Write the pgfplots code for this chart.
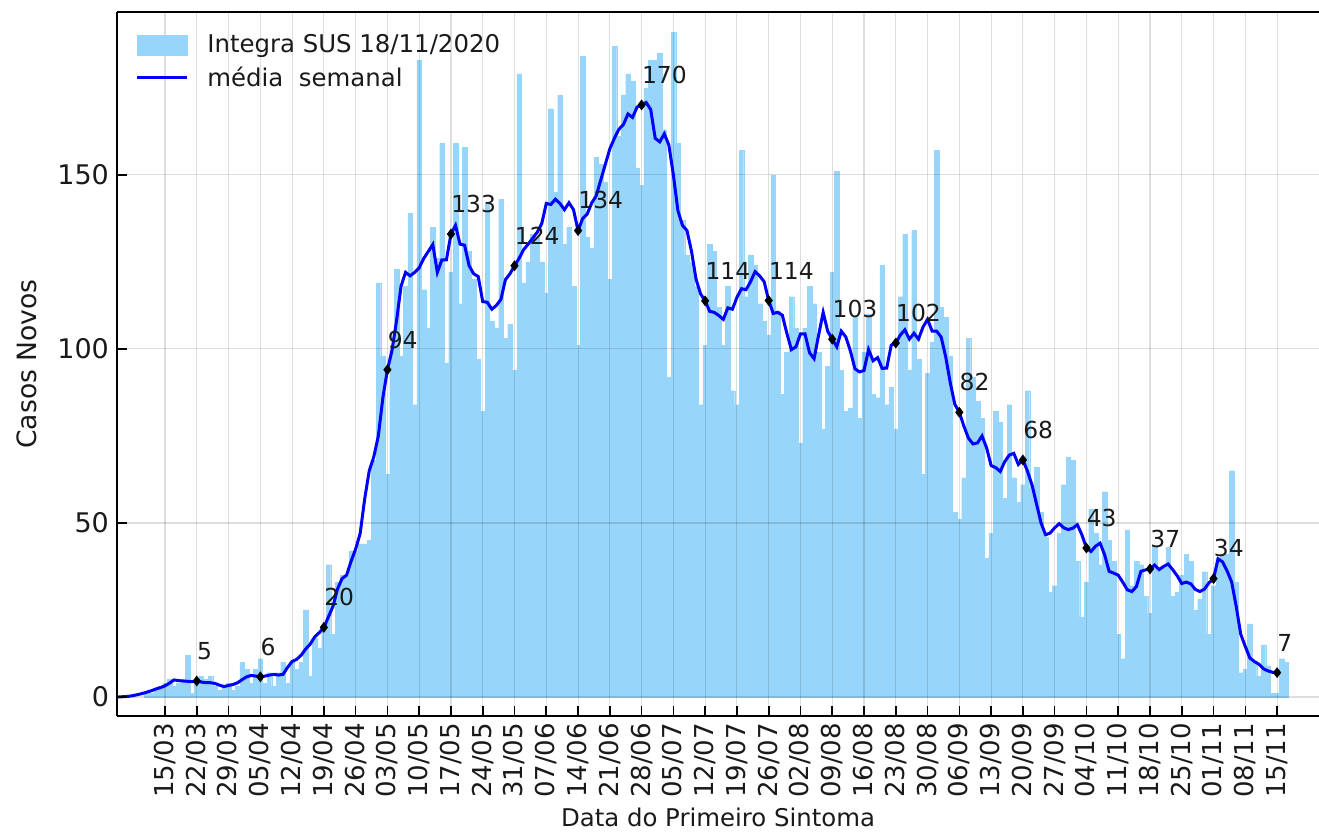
\documentclass[border=0pt]{standalone}
\usepackage{fontspec}
\setmainfont{DejaVu Sans}
\usepackage{pgfplots}
\pgfplotsset{compat=1.18}
\usepackage{pgfplotstable}
\definecolor{barblue}{RGB}{151,213,250}
\definecolor{txt}{RGB}{26,26,26}

\pgfplotstableread{
d v
-4 1
-3 1
-2 2
-1 3
0 4
1 5
2 3
3 4
4 5
5 12
6 1
7 5
8 6
9 5
10 6
11 3
12 2
13 3
14 4
15 2
16 3
17 10
18 8
19 4
20 8
21 11
22 4
23 7
24 3
25 7
26 10
27 4
28 10
29 8
30 10
31 25
32 6
33 17
34 14
35 20
36 38
37 18
38 33
39 35
40 35
41 42
42 42
43 44
44 44
45 45
46 68
47 119
48 98
49 64
50 100
51 123
52 98
53 118
54 139
55 84
56 183
57 117
58 106
59 135
60 126
61 159
62 96
63 122
64 159
65 113
66 158
67 128
68 120
69 97
70 82
71 142
72 108
73 106
74 143
75 103
76 107
77 94
78 179
79 119
80 125
81 133
82 132
83 125
84 116
85 169
86 145
87 173
88 130
89 135
90 118
91 101
92 184
93 132
94 129
95 155
96 153
97 148
98 120
99 187
100 161
101 173
102 179
103 177
104 152
105 147
106 175
107 183
108 183
109 185
110 163
111 92
112 191
113 159
114 137
115 127
116 125
117 118
118 84
119 101
120 130
121 128
122 112
123 101
124 118
125 88
126 84
127 157
128 115
129 127
130 124
131 113
132 108
133 104
134 150
135 111
136 87
137 99
138 115
139 106
140 73
141 106
142 118
143 113
144 99
145 77
146 95
147 122
148 151
149 94
150 82
151 83
152 109
153 80
154 99
155 110
156 87
157 86
158 124
159 84
160 89
161 77
162 115
163 133
164 94
165 134
166 97
167 64
168 93
169 102
170 157
171 112
172 109
173 98
174 53
175 51
176 63
177 103
178 92
179 85
180 80
181 40
182 47
183 82
184 79
185 57
186 84
187 63
188 56
189 61
190 88
191 60
192 66
193 53
194 46
195 30
196 32
197 47
198 61
199 69
200 68
201 39
202 23
203 33
204 54
205 47
206 38
207 59
208 45
209 39
210 18
211 11
212 48
213 32
214 39
215 38
216 29
217 24
218 43
219 37
220 37
221 43
222 29
223 30
224 35
225 41
226 39
227 25
228 28
229 36
230 18
231 32
232 40
233 41
234 41
235 65
236 33
237 7
238 8
239 21
240 10
241 6
242 15
243 9
244 1
245 1
246 11
247 10
}\bars

\pgfplotstableread{
d v
-10.575 0
-9 0.1
-8 0.2
-7 0.4
-6 0.7
-5 1.0
-4 1.4
-3 1.8
-2 2.3
-1 2.7
0 3.2
1 4.0
2 4.9
3 4.7
4 4.6
5 4.5
6 4.4
7 4.6
8 4.3
9 4.1
10 4.1
11 3.9
12 3.4
13 3.0
14 3.3
15 3.6
16 4.1
17 5.0
18 5.8
19 6.2
20 6.0
21 5.8
22 6.0
23 6.3
24 6.5
25 6.3
26 6.5
27 8.5
28 10.2
29 10.8
30 12.0
31 13.8
32 15.2
33 17.3
34 18.5
35 20.0
36 23.0
37 26.0
38 31.0
39 34.0
40 35.0
41 39.0
42 42.5
43 47.0
44 57.0
45 65.0
46 69.0
47 75.0
48 86.0
49 94.0
50 99.5
51 108.0
52 118.0
53 122.0
54 121.0
55 122.0
56 123.3
57 126.0
58 128.0
59 130.0
60 122.0
61 125.6
62 125.6
63 133.0
64 135.5
65 130.1
66 129.8
67 123.9
68 121.6
69 120.8
70 113.6
71 113.4
72 111.4
73 112.5
74 114.2
75 119.9
76 121.6
77 123.9
78 126.0
79 128.5
80 130.1
81 131.8
82 133.5
83 136.0
84 141.8
85 141.5
86 143.0
87 141.8
88 140.0
89 142.0
90 140.0
91 134.0
92 137.4
93 138.7
94 141.9
95 144.0
96 148.5
97 153.0
98 157.5
99 160.5
100 163.1
101 164.5
102 167.5
103 166.5
104 169.5
105 170.1
106 170.8
107 168.8
108 160.5
109 159.5
110 161.8
111 158.6
112 150.0
113 139.7
114 135.5
115 134.0
116 128.0
117 120.0
118 115.8
119 113.8
120 110.8
121 110.5
122 109.6
123 108.5
124 111.8
125 111.4
126 114.8
127 117.3
128 117.0
129 119.3
130 122.2
131 121.0
132 119.3
133 113.9
134 110.2
135 110.5
136 109.7
137 104.5
138 99.8
139 100.6
140 104.3
141 104.3
142 98.9
143 97.2
144 104.0
145 110.5
146 105.1
147 102.8
148 100.6
149 105.1
150 103.4
151 99.4
152 94.3
153 93.4
154 93.8
155 99.8
156 96.6
157 97.5
158 94.4
159 94.5
160 101.1
161 101.7
162 104.0
163 105.5
164 102.8
165 104.5
166 102.8
167 106.3
168 108.5
169 105.1
170 105.1
171 103.4
172 97.7
173 90.3
174 84.1
175 81.8
176 77.8
177 74.4
178 72.7
179 73.0
180 75.0
181 71.6
182 66.5
183 65.9
184 64.8
185 67.6
186 69.5
187 70.0
188 66.8
189 68.1
190 64.9
191 61.0
192 55.5
193 50.0
194 46.6
195 47.1
196 48.6
197 49.8
198 48.6
199 48.1
200 48.5
201 49.5
202 46.6
203 42.8
204 41.8
205 43.3
206 44.2
207 40.9
208 36.1
209 35.6
210 35.0
211 33.0
212 30.8
213 30.3
214 31.7
215 36.1
216 36.5
217 36.8
218 37.9
219 36.6
220 37.5
221 38.2
222 36.6
223 34.8
224 32.6
225 33.0
226 32.5
227 30.9
228 30.3
229 31.0
230 32.8
231 34.0
232 39.7
233 38.8
234 36.2
235 33.0
236 26.0
237 18.0
238 14.5
239 11.2
240 10.2
241 9.4
242 8.1
243 7.5
244 7.1
245 7.0
}\mavg

\pgfplotstableread{
d v l
7 4.6 5
21 5.8 6
35 20.0 20
49 94.0 94
63 133.0 133
77 123.9 124
91 134.0 134
105 170.1 170
119 113.8 114
133 113.9 114
147 102.8 103
161 101.7 102
175 81.8 82
189 68.1 68
203 42.8 43
217 36.8 37
231 34.0 34
245 7.0 7
}\marks

\begin{document}
\begin{tikzpicture}
\begin{axis}[
  scale only axis,
  width=601pt, height=352pt,
  xmin=-10.575, xmax=254.24,
  ymin=-5.46, ymax=196.8,
  axis on top,
  separate axis lines,
  axis x line=box,
  axis y line=left,
  axis line style={-, line width=1.4pt, black},
  xtick={0,7,...,245},
  xticklabels={15/03,22/03,29/03,05/04,12/04,19/04,26/04,03/05,10/05,17/05,24/05,31/05,07/06,14/06,21/06,28/06,05/07,12/07,19/07,26/07,02/08,09/08,16/08,23/08,30/08,06/09,13/09,20/09,27/09,04/10,11/10,18/10,25/10,01/11,08/11,15/11},
  ytick={0,50,100,150},
  xtick pos=left,
  ytick pos=left,
  tick align=inside,
  major tick length=5pt,
  every tick/.style={black, line width=0.8pt},
  grid=major,
  grid style={black, opacity=0.13, line width=0.55pt},
  /pgf/number format/assume math mode=true,
  xticklabel style={rotate=90, anchor=east, font=\fontsize{13}{15}\selectfont, text=txt},
  yticklabel style={font=\fontsize{13.5}{15}\selectfont, text=txt, xshift=-0.5pt},
  xlabel={Data do Primeiro Sintoma},
  ylabel={Casos Novos},
  every axis x label/.style={at={(axis description cs:0.5,0)}, anchor=base, yshift=-55.5pt, font=\fontsize{12.2}{14}\selectfont, text=txt},
  every axis y label/.style={at={(axis description cs:-0.0749,0.5)}, anchor=center, rotate=90, font=\fontsize{13.3}{15}\selectfont, text=txt},
  legend style={draw=none, fill=none, at={(rel axis cs:0,1)}, anchor=north west, xshift=6pt, yshift=-7pt, font=\fontsize{12.2}{14}\selectfont, text=txt, row sep=1.5pt, column sep=7.5pt, cells={anchor=west}},
]
\addplot[ybar, bar width=1, fill=barblue, draw=barblue, line width=0.1pt,
  legend image code/.code={\fill[barblue] (0pt,-5pt) rectangle (25pt,5pt);}]
  table[x=d, y=v] {\bars};
\addlegendentry{Integra SUS 18/11/2020}
\addplot[blue, line width=1.5pt, no marks,
  legend image code/.code={\draw[blue, line width=1.5pt] (0pt,0pt) -- (25pt,0pt);}]
  table[x=d, y=v] {\mavg};
\addlegendentry{média\ \ semanal}
\addplot[only marks, mark=diamond*, mark size=2.4pt, black, forget plot,
  nodes near coords, point meta=explicit symbolic,
  every node near coord/.append style={anchor=south west, inner sep=0pt, xshift=0pt, yshift=10.5pt, font=\fontsize{11.7}{13}\selectfont, text=txt}]
  table[x=d, y=v, meta=l] {\marks};
\coordinate (SW) at (rel axis cs:0,0);
\coordinate (NE) at (rel axis cs:1,1);
\end{axis}
\pgfresetboundingbox
\path ([shift={(-58.5pt,-58pt)}]SW) rectangle ([shift={(0pt,6pt)}]NE);
\end{tikzpicture}
\end{document}
